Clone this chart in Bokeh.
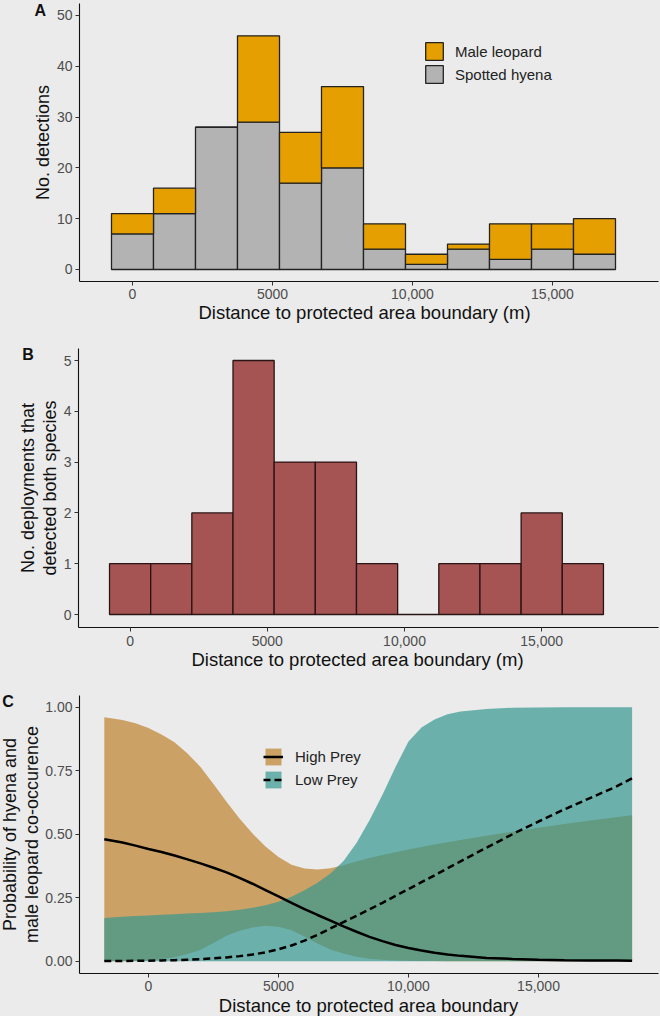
from bokeh.plotting import figure
from bokeh.layouts import column
from bokeh.models import (Range1d, FixedTicker, Label, Legend, LegendItem, LinearAxis,
                          ColumnDataSource, NumeralTickFormatter)
from bokeh.embed import file_html
from bokeh.resources import INLINE
import math

# ---------------- data ----------------
bin_centers = [0, 1500, 3000, 4500, 6000, 7500, 9000, 10500, 12000, 13500, 15000, 16500]
bin_width = 1500
hyena = [7, 11, 28, 29, 17, 20, 4, 1, 4, 2, 4, 3]
leopard = [4, 5, 0, 17, 10, 16, 5, 2, 1, 7, 5, 7]
both_species = [1, 1, 2, 5, 3, 3, 1, 0, 1, 1, 2, 1]

dist_c = [-1700, -1000, -500, 0, 500, 1000, 1500, 2000, 2500, 3000, 3500, 4000, 4500,
          5000, 5500, 6000, 6500, 7000, 7500, 8000, 8500, 9000, 9500, 10000, 10500,
          11000, 11500, 12000, 13000, 14000, 15000, 16000, 17000, 18000, 18600]
high_mean = [0.48, 0.467, 0.455, 0.442, 0.43, 0.416, 0.401, 0.385, 0.368, 0.35, 0.328,
             0.305, 0.28, 0.255, 0.23, 0.205, 0.182, 0.16, 0.137, 0.116, 0.096, 0.079,
             0.064, 0.052, 0.042, 0.033, 0.026, 0.021, 0.013, 0.009, 0.006, 0.004,
             0.003, 0.003, 0.002]
high_lo = [0.0, 0.0, 0.001, 0.003, 0.008, 0.016, 0.028, 0.045, 0.072, 0.1, 0.12, 0.133,
           0.14, 0.136, 0.122, 0.097, 0.07, 0.046, 0.03, 0.018, 0.01, 0.006, 0.003,
           0.002, 0.001, 0.001, 0.0, 0.0, 0.0, 0.0, 0.0, 0.0, 0.0, 0.0, 0.0]
high_hi = [0.96, 0.95, 0.937, 0.918, 0.893, 0.862, 0.818, 0.765, 0.698, 0.628, 0.562,
           0.503, 0.452, 0.41, 0.38, 0.365, 0.361, 0.366, 0.378, 0.393, 0.406, 0.418,
           0.429, 0.44, 0.45, 0.459, 0.468, 0.477, 0.494, 0.51, 0.525, 0.54, 0.554,
           0.567, 0.575]
low_mean = [0.001, 0.001, 0.002, 0.002, 0.003, 0.004, 0.006, 0.008, 0.011, 0.015, 0.02,
            0.026, 0.035, 0.047, 0.062, 0.081, 0.104, 0.129, 0.154, 0.179, 0.204, 0.23,
            0.257, 0.284, 0.311, 0.338, 0.366, 0.393, 0.447, 0.5, 0.55, 0.598, 0.643,
            0.688, 0.72]
low_lo = [0.0, 0.0, 0.0, 0.0, 0.0, 0.0, 0.0, 0.0, 0.0, 0.0, 0.0, 0.0, 0.0, 0.0, 0.0, 0.0,
          0.0, 0.0, 0.0, 0.0, 0.0, 0.0, 0.0, 0.0, 0.0, 0.0, 0.0, 0.0, 0.0, 0.0, 0.0, 0.0,
          0.0, 0.0, 0.0]
low_hi = [0.17, 0.175, 0.178, 0.18, 0.183, 0.185, 0.188, 0.19, 0.193, 0.197, 0.203, 0.21,
          0.22, 0.234, 0.254, 0.279, 0.309, 0.345, 0.395, 0.465, 0.555, 0.655, 0.765,
          0.865, 0.92, 0.952, 0.972, 0.983, 0.993, 0.998, 0.999, 1.0, 1.0, 1.0, 1.0]

x_ticks = [0, 5000, 10000, 15000]
x_tick_labels = {0: "0", 5000: "5000", 10000: "10,000", 15000: "15,000"}
countA_ticks = [0, 10, 20, 30, 40, 50]
countB_ticks = [0, 1, 2, 3, 4, 5]
prob_ticks = [0, 0.25, 0.5, 0.75, 1.0]

BG = "#ebebeb"
FONT = "Liberation Sans"


def make_fig(h, xr, yr):
    p = figure(width=660, height=h, x_range=Range1d(*xr), y_range=Range1d(*yr),
               output_backend="svg", toolbar_location=None,
               x_axis_location=None, y_axis_location=None,
               min_border=0, min_border_left=0, min_border_right=0,
               min_border_top=0, min_border_bottom=0,
               background_fill_color=BG, border_fill_color=BG,
               outline_line_color=None)
    p.grid.visible = False
    return p


def style_axis(ax):
    ax.axis_line_color = "#111111"
    ax.axis_line_width = 1.1
    ax.major_tick_line_color = "#333333"
    ax.major_tick_out = 4
    ax.major_tick_in = 0
    ax.minor_tick_line_color = None
    ax.major_label_text_font = FONT
    ax.major_label_text_font_size = "14px"
    ax.major_label_text_color = "#4d4d4d"


def add_axes(p, x_at_left, x_right, y_at_bottom, y_top, yticks):
    xa = LinearAxis(fixed_location=y_at_bottom, bounds=(x_at_left, x_right),
                    ticker=FixedTicker(ticks=x_ticks))
    xa.major_label_overrides = x_tick_labels
    style_axis(xa)
    xa.major_label_standoff = 4
    ya = LinearAxis(fixed_location=x_at_left, bounds=(y_at_bottom, y_top),
                    ticker=FixedTicker(ticks=yticks))
    style_axis(ya)
    ya.major_label_standoff = 3
    p.add_layout(xa, "below")
    p.add_layout(ya, "left")
    return xa, ya


def add_text(p, text, x, y, angle=0, align="center", baseline="middle",
             size="18px", style="normal", color="#111111"):
    p.add_layout(Label(x=x, y=y, x_units="screen", y_units="screen", text=text,
                       angle=angle, text_align=align, text_baseline=baseline,
                       text_font=FONT, text_font_size=size, text_font_style=style,
                       text_color=color))


# ---------------- panel A (page y 0..330) ----------------
pA = make_fig(330, (-4714.3, 18857.1), (-12.008, 52.95))
add_axes(pA, -1893, 18786, -2.362, 52.36, countA_ticks)
srcA = ColumnDataSource(dict(x=bin_centers, hyena=hyena, leopard=leopard))
rA = pA.vbar_stack(["hyena", "leopard"], x="x", width=bin_width, source=srcA,
                   fill_color=["#b3b3b3", "#e69f00"], line_color="#222222",
                   line_width=1.3)
legA = Legend(items=[LegendItem(label="Male leopard", renderers=[rA[1]]),
                     LegendItem(label="Spotted hyena", renderers=[rA[0]])],
              location=(423, 245), padding=0, margin=0, spacing=1,
              glyph_width=22, glyph_height=22, label_standoff=10,
              label_text_font=FONT, label_text_font_size="15px",
              label_text_color="#222222", background_fill_alpha=0,
              border_line_alpha=0)
pA.add_layout(legA)
add_text(pA, "Distance to protected area boundary (m)", 364, 18, size="18.5px")
add_text(pA, "No. detections", 42.5, 188, angle=math.pi / 2)
add_text(pA, "A", 34, 320, align="left", size="16px", style="bold")

# ---------------- panel B (page y 330..676) ----------------
pB = make_fig(346, (-4723, 19329), (-1.22, 5.591))
add_axes(pB, -1880, 19257, -0.256, 5.236, countB_ticks)
pB.vbar(x=bin_centers, top=both_species, width=bin_width, fill_color="#a65353",
        line_color="#2a1414", line_width=1.3)
add_text(pB, "Distance to protected area boundary (m)", 357, 17.4, size="18.5px")
add_text(pB, "No. deployments that", 27.5, 188.5, angle=math.pi / 2)
add_text(pB, "detected both species", 49.5, 188.5, angle=math.pi / 2)
add_text(pB, "B", 21.7, 322, align="left", size="16px", style="bold")

# ---------------- panel C (page y 676..1016) ----------------
pC = make_fig(340, (-5692, 19692), (-0.2177, 1.1209))
xaC, yaC = add_axes(pC, -2654, 19615, -0.0484, 1.046, prob_ticks)
yaC.formatter = NumeralTickFormatter(format="0.00")
srcC = ColumnDataSource(dict(x=dist_c, hm=high_mean, hl=high_lo, hh=high_hi,
                             lm=low_mean, ll=low_lo, lh=low_hi))
ahigh = pC.varea(x="x", y1="hl", y2="hh", source=srcC, fill_color="#bf812d",
                 fill_alpha=0.7)
alow = pC.varea(x="x", y1="ll", y2="lh", source=srcC, fill_color="#35978f",
                fill_alpha=0.7)
lhigh = pC.line(x="x", y="hm", source=srcC, line_color="black", line_width=2.5)
llow = pC.line(x="x", y="lm", source=srcC, line_color="black", line_width=2.5,
               line_dash="7 4")
legC = Legend(items=[LegendItem(label="High Prey", renderers=[ahigh, lhigh]),
                     LegendItem(label="Low Prey", renderers=[alow, llow])],
              location=(263, 226), padding=0, margin=0, spacing=2,
              glyph_width=20, glyph_height=21, label_standoff=12,
              label_text_font=FONT, label_text_font_size="15px",
              label_text_color="#222222", background_fill_alpha=0,
              border_line_alpha=0)
pC.add_layout(legC)
add_text(pC, "Distance to protected area boundary", 368, 10.7, size="18.5px")
add_text(pC, "Probability of hyena and", 9, 182, angle=math.pi / 2)
add_text(pC, "male leopard co-occurence", 31.5, 182, angle=math.pi / 2)
add_text(pC, "C", 1.7, 315, align="left", size="16px", style="bold")

layout = column(pA, pB, pC, spacing=0, styles={"background-color": BG})
open("out.html", "w").write(file_html(layout, INLINE))
